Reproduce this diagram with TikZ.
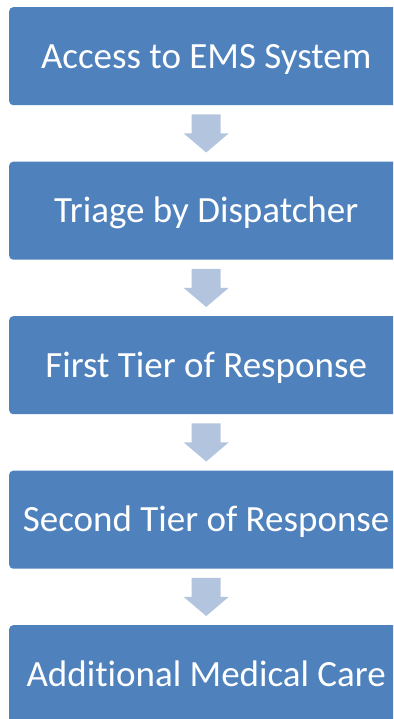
\documentclass[tikz,border=0pt]{standalone}
\usepackage{fontspec}
\setmainfont[Ligatures={NoCommon}]{Carlito}
\usetikzlibrary{calc}
\definecolor{boxblue}{HTML}{4F81BD}
\definecolor{arrblue}{HTML}{B3C4DF}
\newcommand\flowarrow[2]{%
  \fill[arrblue] ($(#1.south)+(-14.5,-9)$) -- ($(#1.south)+(14.5,-9)$)
    -- ($(#1.south)+(14.5,-28)$) -- ($(#1.south)+(22.5,-28)$)
    -- ($(#2.north)+(0,9)$) -- ($(#1.south)+(-22.5,-28)$)
    -- ($(#1.south)+(-14.5,-28)$) -- cycle;}
\begin{document}
\begin{tikzpicture}[x=1pt,y=1pt,
  stepbox/.style={fill=boxblue, rounded corners=4pt, minimum width=394pt,
    minimum height=98pt, text=white, font=\fontsize{37}{44}\selectfont,
    inner sep=0pt, text height=23.8pt, text depth=0pt, anchor=north west}]
\useasboundingbox (0,0) rectangle (393,-719);
\begin{scope}
\clip (0,0) rectangle (393,-719);
\node[stepbox] (b1) at (9,-7) {Access to EMS System};
\node[stepbox] (b2) at (9,-161.5) {Triage by Dispatcher};
\node[stepbox] (b3) at (9,-316) {First Tier of Response};
\node[stepbox] (b4) at (9,-470.5) {Second Tier of Response};
\node[stepbox] (b5) at (9,-625) {Additional Medical Care};
\flowarrow{b1}{b2}
\flowarrow{b2}{b3}
\flowarrow{b3}{b4}
\flowarrow{b4}{b5}
\end{scope}
\end{tikzpicture}
\end{document}
